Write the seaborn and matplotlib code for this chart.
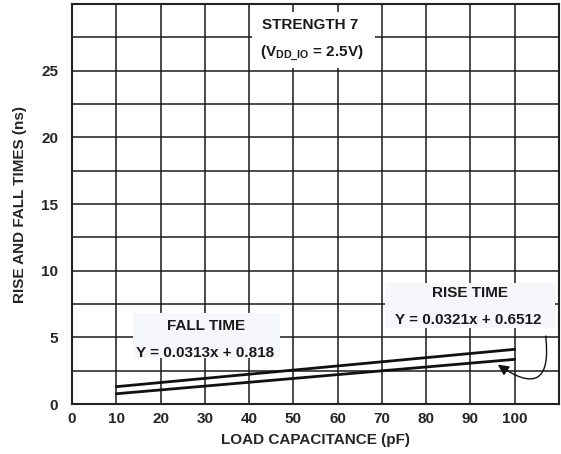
import pandas as pd
import seaborn as sns
import matplotlib.pyplot as plt
from matplotlib.patches import Rectangle

# --- Data (ns vs pF) ---
load_pf = [10, 100]
rise_ns = [1.30, 4.10]
fall_ns = [0.77, 3.35]
x_ticks = [0, 10, 20, 30, 40, 50, 60, 70, 80, 90, 100]
y_ticks = [0, 5, 10, 15, 20, 25]

sns.set_theme(style="white")
plt.rcParams['font.family'] = ['Liberation Sans', 'DejaVu Sans']
plt.rcParams['font.weight'] = 'bold'
plt.rcParams['mathtext.fontset'] = 'custom'
plt.rcParams['mathtext.bf'] = 'Liberation Sans:bold'
plt.rcParams['mathtext.rm'] = 'Liberation Sans:bold'

df = pd.DataFrame({
    'load': load_pf * 2,
    'time': rise_ns + fall_ns,
    'kind': ['RISE'] * 2 + ['FALL'] * 2,
})

fig = plt.figure(figsize=(5.61, 4.54), dpi=100)
ax = fig.add_axes([0.1283, 0.1101, 0.8681, 0.8811])

sns.lineplot(data=df, x='load', y='time', units='kind', estimator=None,
             color='#111111', linewidth=2.0, ax=ax, zorder=3, legend=False)

ax.set_xlim(0, 110)
ax.set_ylim(0, 30)
ax.set_xticks(x_ticks)
ax.set_yticks(y_ticks)
ax.set_xticks([110], minor=True)
ax.set_yticks([v * 2.5 for v in range(1, 12, 2)], minor=True)
ax.grid(which='both', color='#1a1a1a', linewidth=1.1, zorder=1)
ax.set_axisbelow(True)
ax.tick_params(which='both', length=0)
ax.tick_params(axis='x', pad=6, labelsize=11)
ax.tick_params(axis='y', pad=10, labelsize=11)
for lab in ax.get_xticklabels() + ax.get_yticklabels():
    lab.set_fontweight('bold')
for s in ax.spines.values():
    s.set_color('#222222')
    s.set_linewidth(1.5)

ax.set_xlabel('LOAD CAPACITANCE (pF)', fontsize=11, fontweight='bold', labelpad=5)
ax.set_ylabel('RISE AND FALL TIMES (ns)', fontsize=11, fontweight='bold', labelpad=10)

# label boxes covering the grid
box_bg = '#f5f7fb'
ax.add_patch(Rectangle((40.6, 25.2), 27.8, 4.2, facecolor='white', edgecolor='none', zorder=2))
ax.add_patch(Rectangle((13.8, 3.45), 33.2, 3.35, facecolor=box_bg, edgecolor='none', zorder=2))
ax.add_patch(Rectangle((70.7, 5.7), 38.3, 3.4, facecolor=box_bg, edgecolor='none', zorder=2))

tkw = dict(ha='center', va='center', fontsize=11, fontweight='bold', color='#1a1a1a', zorder=4)
ax.text(53.7, 28.4, 'STRENGTH 7', **tkw)
ax.text(54.1, 26.3, r'(V$_{\mathbf{DD\_IO}}$ = 2.5V)', **tkw)
ax.text(30.2, 5.87, 'FALL TIME', **tkw)
ax.text(30.0, 3.8, 'Y = 0.0313x + 0.818', **tkw)
ax.text(89.8, 8.35, 'RISE TIME', **tkw)
ax.text(89.6, 6.3, 'Y = 0.0321x + 0.6512', **tkw)

ax.annotate('', xy=(96.2, 2.95), xytext=(107.0, 5.1),
            arrowprops=dict(arrowstyle='-|>', color='#111111', lw=1.0,
                            mutation_scale=16, shrinkA=0, shrinkB=0,
                            connectionstyle='arc3,rad=-1.1'),
            zorder=4)

plt.savefig('out.png', dpi=100)
plt.close()
